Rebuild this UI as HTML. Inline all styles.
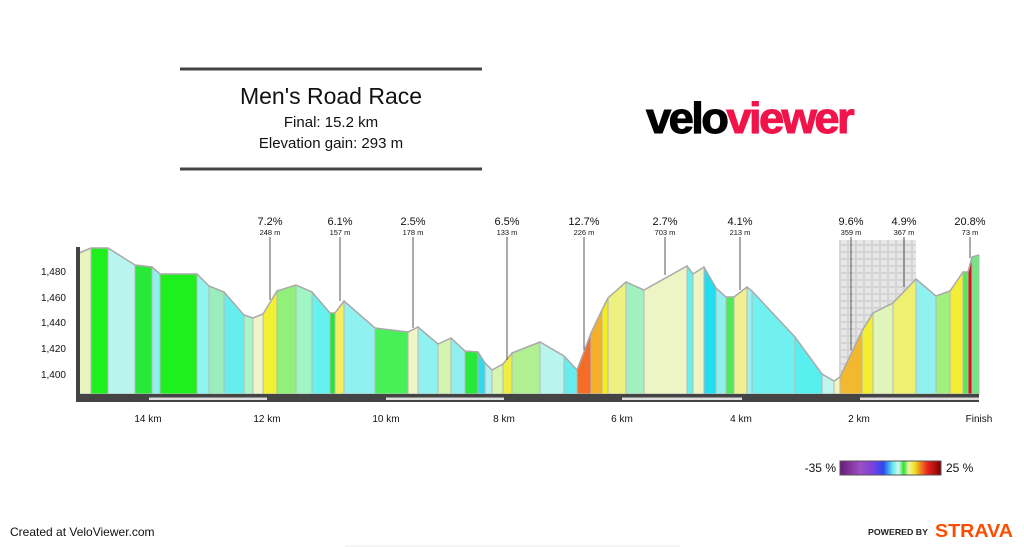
<!DOCTYPE html>
<html><head><meta charset="utf-8"><style>
html,body{margin:0;padding:0;background:#fff;width:1024px;height:547px;overflow:hidden;font-family:"Liberation Sans",Arial,sans-serif}
</style></head><body>
<svg id="s" width="1024" height="547" viewBox="0 0 1024 547" xmlns="http://www.w3.org/2000/svg" font-family="Liberation Sans, Arial, sans-serif">
<defs>
<pattern id="cob" width="8" height="7" patternUnits="userSpaceOnUse">
<rect width="8" height="7" fill="#d4d4d4"/><rect x="1" y="1" width="6" height="5" fill="#e6e6e6"/>
</pattern>
<linearGradient id="lg" x1="0" x2="1">
<stop offset="0" stop-color="#6a1a7a"/><stop offset="0.2" stop-color="#9a50c0"/><stop offset="0.33" stop-color="#7a40e0"/><stop offset="0.43" stop-color="#2a4af0"/><stop offset="0.52" stop-color="#60e8f0"/><stop offset="0.58" stop-color="#d8f8f0"/><stop offset="0.63" stop-color="#30e030"/><stop offset="0.68" stop-color="#f0f8a0"/><stop offset="0.74" stop-color="#f0e020"/><stop offset="0.8" stop-color="#f08020"/><stop offset="0.87" stop-color="#e82020"/><stop offset="1" stop-color="#800000"/>
</linearGradient>
</defs>
<line x1="180" y1="69" x2="482" y2="69" stroke="#444" stroke-width="3"/>
<line x1="180" y1="169" x2="482" y2="169" stroke="#444" stroke-width="3"/>
<text x="331" y="104" font-size="23" text-anchor="middle" fill="#111">Men's Road Race</text>
<text x="331" y="127" font-size="15" text-anchor="middle" fill="#111">Final: 15.2 km</text>
<text x="331" y="148" font-size="15" text-anchor="middle" fill="#111">Elevation gain: 293 m</text>
<text x="646" y="133" font-size="44" font-weight="bold" letter-spacing="-2.5" stroke-width="1" textLength="206" lengthAdjust="spacingAndGlyphs"><tspan fill="#000" stroke="#000">velo</tspan><tspan fill="#f0144a" stroke="#f0144a">viewer</tspan></text>
<rect x="839" y="240" width="77" height="154" fill="url(#cob)"/>
<g id="prof"></g>
<g id="marks" font-size="10" text-anchor="middle" fill="#111"></g>
<rect x="76" y="247" width="4" height="150" fill="#444"/>
<rect x="76" y="394" width="903" height="8" fill="#444"/>
<g fill="#ddd"><rect x="149" y="397.5" width="118" height="2.5"/><rect x="386" y="397.5" width="118" height="2.5"/><rect x="622" y="397.5" width="120" height="2.5"/><rect x="860" y="397.5" width="119" height="2.5"/></g>
<g font-size="10" text-anchor="end" fill="#111">
<text x="66" y="275">1,480</text><text x="66" y="301">1,460</text><text x="66" y="326">1,440</text><text x="66" y="352">1,420</text><text x="66" y="378">1,400</text></g>
<g font-size="10" text-anchor="middle" fill="#111">
<text x="148" y="422">14 km</text><text x="267" y="422">12 km</text><text x="386" y="422">10 km</text><text x="504" y="422">8 km</text><text x="622" y="422">6 km</text><text x="741" y="422">4 km</text><text x="859" y="422">2 km</text><text x="979" y="422">Finish</text></g>
<text x="836" y="472" font-size="12" text-anchor="end" fill="#111">-35 %</text>
<rect x="840" y="461" width="101" height="14" fill="url(#lg)" stroke="#555" stroke-width="1"/>
<text x="946" y="472" font-size="12" fill="#111">25 %</text>
<text x="10" y="536" font-size="12" fill="#111">Created at VeloViewer.com</text>
<text x="868" y="535" font-size="8.5" font-weight="bold" fill="#222" textLength="60" lengthAdjust="spacingAndGlyphs">POWERED BY</text>
<text x="935" y="537" font-size="18" font-weight="bold" fill="#fc4c02" textLength="78" lengthAdjust="spacingAndGlyphs">STRAVA</text>
<line x1="345" y1="546" x2="680" y2="546" stroke="#eee"/>
</svg>
<script>
var P=[[79,253],[91,248],[108,248],[135,265],[152,267],[160,274],[197,274],[209,286],[224,292],[244,315],[253,318],[263,314],[277,291],[296,285],[312,292],[330,313],[335,313],[344,301],[375,328],[408,332],[418,327],[438,344],[451,338],[465,351],[478,352],[485,363],[492,370],[503,364],[512,353],[540,342],[564,356],[577,370],[591,333],[602,310],[608,298],[626,282],[644,290],[687,266],[693,274],[704,267],[716,288],[726,297],[734,297],[747,287],[752,291],[795,337],[822,374],[834,381],[840,377],[862,331],[873,313],[893,303],[916,279],[936,296],[950,291],[963,272],[968,272],[972,257],[979,255]];
var C=["#e8f5c0","#1ef01e","#b8f5ee","#2ae83a","#90f0f0","#1ef01e","#90f5f0","#9aeebb","#66eeee","#a8f5c8","#eef5c8","#f2f032","#90f07a","#a0f5c4","#66f0ee","#20e830","#f2f060","#90f2f0","#48f058","#f0f5c8","#90f2f0","#d4f5b0","#90f0f0","#2ae83a","#30d8f0","#b0f0f0","#d8f5b0","#f0ee40","#b0f090","#b8f5ee","#66eeee","#f46c28","#f2b02c","#f2ee20","#eef080","#a0f0c0","#eef5c4","#66f0ee","#eef5c4","#22dcf0","#90f0f0","#50e858","#f0f090","#a0f0f0","#70f0ee","#58f0ee","#c0f5ee","#eef5c0","#f2b830","#f2ee30","#e0f5b8","#f0f070","#90f2f0","#a0f080","#f2ee38","#50e858","#d01818","#70e880"];
var g=document.getElementById("prof"),h="";
for(var i=0;i<P.length-1;i++){var a=P[i],b=P[i+1];
h+='<polygon points="'+a[0]+',394 '+a[0]+','+a[1]+' '+b[0]+','+b[1]+' '+b[0]+',394" fill="'+C[i]+'" stroke="#b8b8b8" stroke-width="1"/>';}
var pl=P.map(function(p){return p.join(",")}).join(" ");
h+='<polyline points="'+pl+'" fill="none" stroke="#aaa" stroke-width="1.5"/>';
g.innerHTML=h;
var M=[[270,300,"7.2%","248 m"],[340,301,"6.1%","157 m"],[413,328,"2.5%","178 m"],[507,360,"6.5%","133 m"],[584,350,"12.7%","226 m"],[665,275,"2.7%","703 m"],[740,290,"4.1%","213 m"],[851,350,"9.6%","359 m"],[904,287,"4.9%","367 m"],[970,258,"20.8%","73 m"]];
var m="";M.forEach(function(k){m+='<line x1="'+k[0]+'" y1="237" x2="'+k[0]+'" y2="'+k[1]+'" stroke="#555" stroke-width="1"/><text x="'+k[0]+'" y="225" font-size="11">'+k[2]+'</text><text x="'+k[0]+'" y="235" font-size="7.5">'+k[3]+'</text>';});
document.getElementById("marks").innerHTML=m;
</script>
</body></html>
